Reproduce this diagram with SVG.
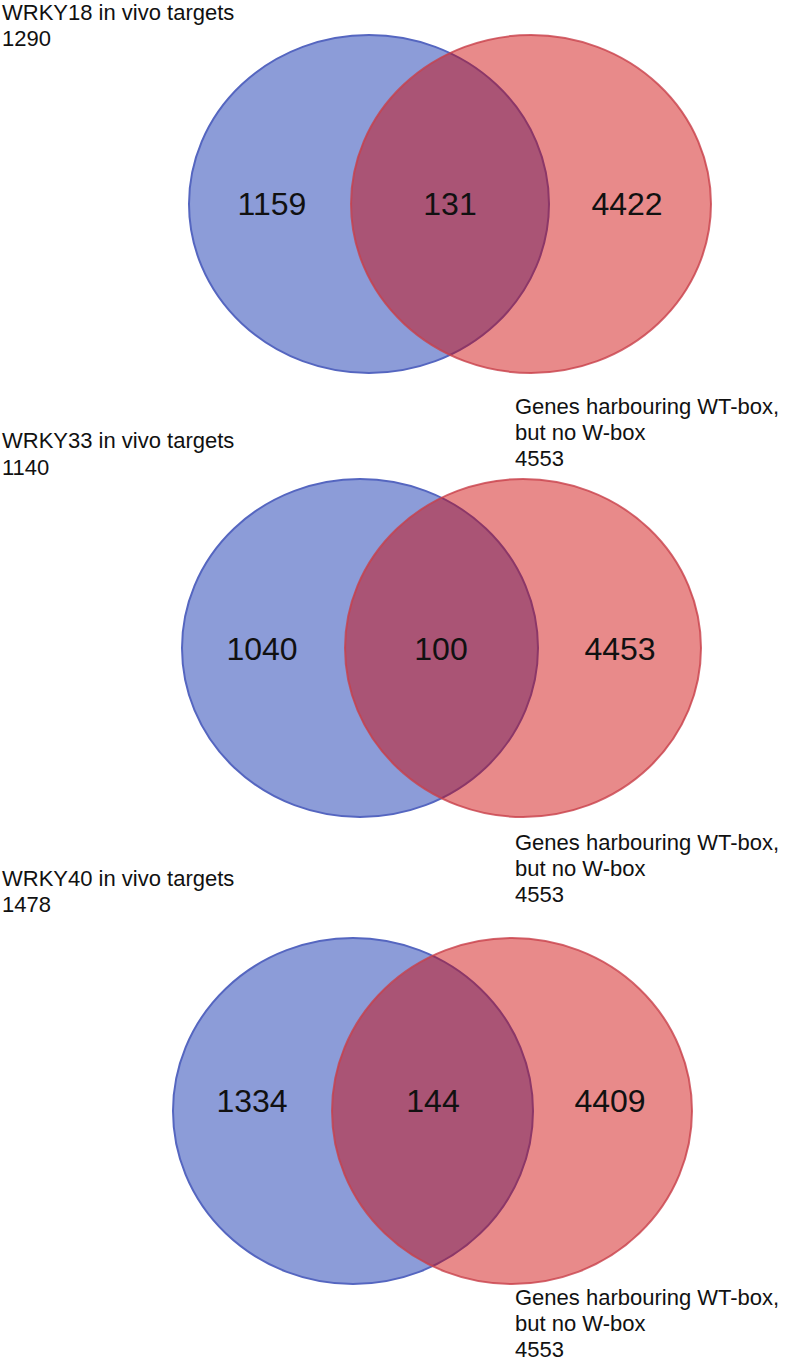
<svg xmlns="http://www.w3.org/2000/svg" width="786" height="1362" viewBox="0 0 786 1362">
<style>
.bl{fill:#8C9CD8;stroke:#5566C0;stroke-width:2}
.rd{fill:rgb(205,0,0);fill-opacity:0.46;stroke:#C8404A;stroke-opacity:0.8;stroke-width:2}
.lab{font-family:"Liberation Sans",Arial,sans-serif;font-size:22px;fill:#111}
.num{font-family:"Liberation Sans",Arial,sans-serif;font-size:32px;fill:#111;text-anchor:middle}
</style>
<rect width="786" height="1362" fill="#fff"/>
<g id="venn1">
<ellipse class="bl" cx="369" cy="204" rx="180" ry="169"/>
<ellipse class="rd" cx="531" cy="204" rx="180" ry="169"/>
<text class="num" x="272" y="215">1159</text>
<text class="num" x="450" y="215">131</text>
<text class="num" x="627" y="215">4422</text>
<text class="lab" x="2" y="20">WRKY18 in vivo targets</text>
<text class="lab" x="2" y="46">1290</text>
<text class="lab" x="515" y="414">Genes harbouring WT-box,</text>
<text class="lab" x="515" y="440">but no W-box</text>
<text class="lab" x="515" y="466">4553</text>
</g>
<g id="venn2">
<ellipse class="bl" cx="360" cy="648" rx="178" ry="169"/>
<ellipse class="rd" cx="523" cy="648" rx="178" ry="169"/>
<text class="num" x="262" y="660">1040</text>
<text class="num" x="441" y="660">100</text>
<text class="num" x="620" y="660">4453</text>
<text class="lab" x="2" y="448">WRKY33 in vivo targets</text>
<text class="lab" x="2" y="475">1140</text>
<text class="lab" x="515" y="850">Genes harbouring WT-box,</text>
<text class="lab" x="515" y="876">but no W-box</text>
<text class="lab" x="515" y="902">4553</text>
</g>
<g id="venn3">
<ellipse class="bl" cx="353" cy="1111" rx="180" ry="173"/>
<ellipse class="rd" cx="512" cy="1111" rx="180" ry="173"/>
<text class="num" x="252" y="1112">1334</text>
<text class="num" x="433" y="1112">144</text>
<text class="num" x="610" y="1112">4409</text>
<text class="lab" x="2" y="886">WRKY40 in vivo targets</text>
<text class="lab" x="2" y="912">1478</text>
<text class="lab" x="515" y="1305">Genes harbouring WT-box,</text>
<text class="lab" x="515" y="1331">but no W-box</text>
<text class="lab" x="515" y="1357">4553</text>
</g>
<g id="connectors"/>
</svg>
